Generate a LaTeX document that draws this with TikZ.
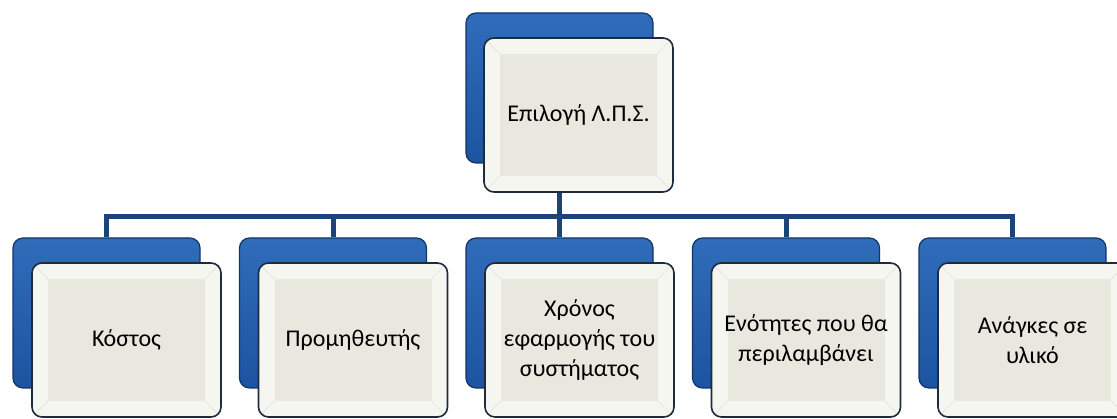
\documentclass[tikz,border=0pt]{standalone}
\usepackage{fontspec}
\setmainfont{Carlito}
\usetikzlibrary{positioning,backgrounds,calc}

\definecolor{boxblue}{RGB}{28,84,160}
\definecolor{boxbluelight}{RGB}{48,108,186}
\definecolor{boxbluedark}{RGB}{18,52,105}
\definecolor{cream}{RGB}{232,232,223}
\definecolor{creamlight}{RGB}{246,246,241}
\definecolor{frameline}{RGB}{30,42,62}
\definecolor{linkblue}{RGB}{28,68,120}

\tikzset{
  back/.style={draw=boxbluedark, line width=1.2pt, rounded corners=10pt,
    minimum width=187pt, minimum height=150pt,
    top color=boxbluelight, middle color=boxblue, bottom color=boxblue},
  front/.style={draw=frameline, line width=1.6pt, rounded corners=10pt,
    fill=creamlight, minimum width=189pt, minimum height=154pt,
    align=center, font=\fontsize{24}{30}\selectfont,
    path picture={
      \fill[cream, sharp corners] ([shift={(16pt,16pt)}]path picture bounding box.south west)
        rectangle ([shift={(-16pt,-16pt)}]path picture bounding box.north east);
      \draw[gray!25, line width=0.6pt, sharp corners]
        (path picture bounding box.south west) -- +(16pt,16pt)
        (path picture bounding box.north west) -- +(16pt,-16pt)
        (path picture bounding box.south east) -- +(-16pt,16pt)
        (path picture bounding box.north east) -- +(-16pt,-16pt);
    }},
  link/.style={draw=linkblue, line width=5pt},
}

\begin{document}
\begin{tikzpicture}[x=1pt, y=-1pt]
    \clip (0,0) rectangle (1117,419);

    % top box
    \node[back] (top) at (559.5,88) {};
    \node[front] (topf) at ([shift={(19,27)}]top) {Επιλογή Λ.Π.Σ.};

    % second row
    \foreach \i/\txt in {1/Κόστος, 2/Προμηθευτής,
        3/{Χρόνος\\εφαρμογής του\\συστήματος},
        4/{Ενότητες που θα\\περιλαμβάνει}, 5/{Ανάγκες σε\\υλικό}} {
        \node[back] (b\i) at ({106.5+226.5*(\i-1)},313) {};
        \node[front] (f\i) at ([shift={(20,27)}]b\i) {\txt};
    }

    % connectors
    \coordinate (bus) at (559.5,217);
    \begin{pgfonlayer}{background}
        \foreach \i in {1,...,5}
            \draw[link] (top.south) -- (bus) -| (b\i.north);
    \end{pgfonlayer}
\end{tikzpicture}
\end{document}
